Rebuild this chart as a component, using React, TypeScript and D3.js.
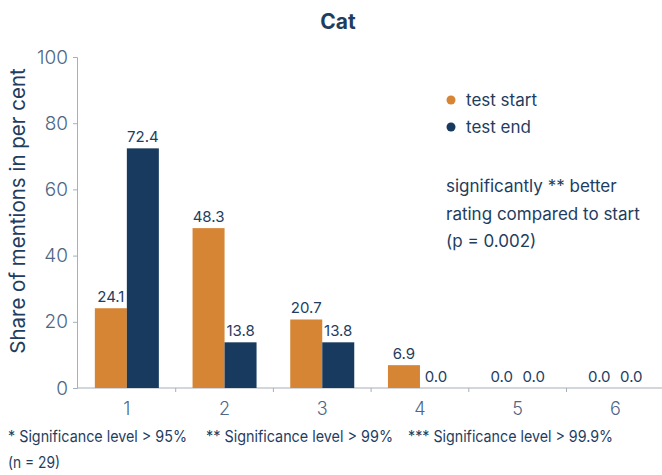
import React, { useEffect, useRef } from 'react';
import * as d3 from 'd3';

const categories = ['1', '2', '3', '4', '5', '6'];
const seriesNames = ['test start', 'test end'];
const testStart = [24.1, 48.3, 20.7, 6.9, 0.0, 0.0];
const testEnd = [72.4, 13.8, 13.8, 0.0, 0.0, 0.0];
const yTicks = [0, 20, 40, 60, 80, 100];
const noteLines = ['significantly ** better', 'rating compared to start', '(p = 0.002)'];
const footnotes = ['* Significance level > 95%', '** Significance level > 99%', '*** Significance level > 99.9%'];

const ORANGE = '#D68534';
const NAVY = '#173A5E';
const TEXT = '#1E3D5F';
const AXIS_TEXT = '#4D6784';
const FONT = 'Inter, "Noto Sans", sans-serif';

export default function App() {
  const ref = useRef<SVGSVGElement>(null);

  useEffect(() => {
    if (!ref.current) return;
    const svg = d3.select(ref.current);
    svg.selectAll('*').remove();

    const width = 662;
    const height = 475;
    const margin = { top: 57, right: 0, bottom: 86, left: 78 };

    const x = d3.scaleBand()
      .domain(categories)
      .range([margin.left, margin.left + 6 * 97.7]);

    const xSeries = d3.scaleBand()
      .domain(seriesNames)
      .range([0, 64])
      .padding(0);

    const y = d3.scaleLinear()
      .domain([0, 100])
      .range([height - margin.bottom - 0.5 + -0.5, margin.top]);

    // title
    svg.append('text')
      .attr('x', 338)
      .attr('y', 29)
      .attr('text-anchor', 'middle')
      .attr('font-family', FONT)
      .attr('font-weight', 700)
      .attr('font-size', 21)
      .attr('fill', TEXT)
      .text('Cat');

    // y axis
    const yAxis = svg.append('g')
      .attr('transform', `translate(${margin.left - 1},0)`)
      .call(d3.axisLeft(y).tickValues(yTicks).tickSize(4).tickPadding(5));
    yAxis.select('.domain').attr('stroke', '#A7AFB8');
    yAxis.selectAll('.tick line').attr('stroke', '#A7AFB8');
    yAxis.selectAll('.tick text')
      .attr('font-family', FONT)
      .attr('font-weight', 300)
      .attr('font-size', 19)
      .attr('fill', AXIS_TEXT);

    // y axis title
    svg.append('text')
      .attr('transform', `translate(25,${211}) rotate(-90)`)
      .attr('text-anchor', 'middle')
      .attr('font-family', FONT)
      .attr('font-weight', 400)
      .attr('font-size', 20.5)
      .attr('fill', TEXT)
      .text('Share of mentions in per cent');

    // x axis
    const xAxis = svg.append('g')
      .attr('transform', `translate(0,${y(0)})`)
      .call(d3.axisBottom(x).tickSize(0).tickPadding(14));
    xAxis.select('.domain').attr('stroke', '#A7AFB8').attr('d', `M${margin.left - 1},0H${width}`);
    xAxis.selectAll('.tick text')
      .attr('font-family', FONT)
      .attr('font-weight', 300)
      .attr('font-size', 18)
      .attr('fill', AXIS_TEXT);
    // ticks between categories
    xAxis.selectAll('.sep')
      .data(categories.slice(1))
      .enter()
      .append('line')
      .attr('x1', d => x(d) as number)
      .attr('x2', d => x(d) as number)
      .attr('y1', 0)
      .attr('y2', 4)
      .attr('stroke', '#A7AFB8');

    const series = [
      { name: seriesNames[0], values: testStart, color: ORANGE },
      { name: seriesNames[1], values: testEnd, color: NAVY },
    ];

    series.forEach(s => {
      const g = svg.append('g');
      g.selectAll('rect')
        .data(categories)
        .enter()
        .append('rect')
        .attr('x', (d) => (x(d) as number) + x.bandwidth() / 2 - 32 + (xSeries(s.name) as number))
        .attr('width', xSeries.bandwidth())
        .attr('y', (d, i) => y(s.values[i]))
        .attr('height', (d, i) => y(0) - y(s.values[i]))
        .attr('fill', s.color);
      g.selectAll('text')
        .data(categories)
        .enter()
        .append('text')
        .attr('x', (d) => (x(d) as number) + x.bandwidth() / 2 - 32 + (xSeries(s.name) as number) + xSeries.bandwidth() / 2)
        .attr('y', (d, i) => y(s.values[i]) - 6)
        .attr('text-anchor', 'middle')
        .attr('font-family', FONT)
        .attr('font-size', 15)
        .attr('fill', TEXT)
        .text((d, i) => s.values[i].toFixed(1));
    });

    // legend
    series.forEach((s, i) => {
      const ly = 100 + i * 27;
      svg.append('circle')
        .attr('cx', 451)
        .attr('cy', ly)
        .attr('r', 4.5)
        .attr('fill', s.color);
      svg.append('text')
        .attr('x', 466)
        .attr('y', ly + 6)
        .attr('font-family', FONT)
        .attr('font-size', 17)
        .attr('fill', TEXT)
        .text(s.name);
    });

    // note
    noteLines.forEach((line, i) => {
      svg.append('text')
        .attr('x', 446)
        .attr('y', 192 + i * 27.5)
        .attr('font-family', FONT)
        .attr('font-size', 17)
        .attr('fill', TEXT)
        .text(line);
    });

    // footnotes
    const footX = [8, 206, 408];
    const footW = [179, 187, 205];
    footnotes.forEach((f, i) => {
      svg.append('text')
        .attr('x', footX[i])
        .attr('y', 442)
        .attr('font-family', FONT)
        .attr('font-size', 15.5)
        .attr('textLength', footW[i])
        .attr('lengthAdjust', 'spacingAndGlyphs')
        .attr('fill', TEXT)
        .text(f);
    });
    svg.append('text')
      .attr('x', 8)
      .attr('y', 468)
      .attr('font-family', FONT)
      .attr('font-size', 15.5)
      .attr('textLength', 52)
      .attr('lengthAdjust', 'spacingAndGlyphs')
      .attr('fill', TEXT)
      .text('(n = 29)');
  }, []);

  return (
    <svg
      ref={ref}
      width={662}
      height={475}
      style={{ position: 'absolute', left: 0, top: 0, background: '#fff' }}
    />
  );
}
